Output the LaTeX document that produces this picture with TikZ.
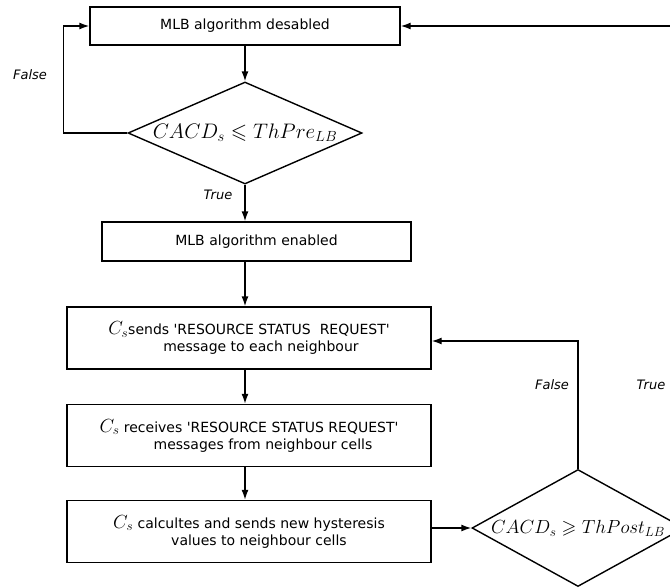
\RequirePackage{fix-cm}
\documentclass[tikz,border=0pt]{standalone}
\usepackage{amsmath}
\usepackage{amssymb}
\usepackage{fontspec}
\setmainfont{DejaVu Sans}
\usetikzlibrary{shapes.geometric,arrows.meta}

\begin{document}
\begin{tikzpicture}[x=1pt,y=1pt,
  box/.style = {draw, align=center, minimum width=364pt, minimum height=62pt, inner sep=2pt, font=\fontsize{14}{17}\selectfont},
  dec/.style = {draw, diamond, inner sep=0pt},
  lbl/.style = {font=\fontsize{13}{15}\selectfont\itshape},
  >={Latex[length=10pt,width=7pt]}, line width=1.4pt]
\useasboundingbox (0,0) rectangle (670,-587);
\node[box, minimum width=310pt, minimum height=38pt] (1) at (245,-26) {MLB algorithm desabled};
\node[dec, minimum width=234pt, minimum height=102pt] (2) [below of=1, node distance=107pt] {\makebox[0pt]{\fontsize{21}{24}\selectfont$CACD_s \leqslant ThPre_{LB}$}};
\node[box, minimum width=309pt, minimum height=39pt] (3) [below of=2, node distance=108.5pt, xshift=11.5pt] {MLB algorithm enabled};
\node[box] (4) [below of=3, node distance=96.5pt, xshift=-7.5pt] {{\fontsize{19}{17}\selectfont$C_s$}sends \textquotesingle RESOURCE STATUS\ \ REQUEST\textquotesingle\\ \hspace*{24pt}message to each neighbour};
\node[box] (5) [below of=4, node distance=97.5pt] {{\fontsize{19}{17}\selectfont$C_s$} receives \textquotesingle RESOURCE STATUS REQUEST\textquotesingle\\ \hspace*{28pt}messages from neighbour cells};
\node[box] (6) [below of=5, node distance=96pt] {{\fontsize{19}{17}\selectfont$C_s$} calcultes and sends new hysteresis\\ \hspace*{20pt}values to neighbour cells};
\node[dec, minimum width=212pt, minimum height=117pt] (7) [right of=6, node distance=329pt, yshift=3.5pt] {\makebox[0pt]{\fontsize{19}{22}\selectfont$CACD_s \geqslant ThPost_{LB}$}};
\node[lbl] (f1) at (30,-75) {False};
\node[lbl] (t1) at (218,-195) {True};
\node[lbl] (f2) at (552,-385) {False};
\node[lbl] (t2) at (651,-385) {True};
\draw[->] (1) -- (2);
\draw[->] (2.west) -- ++(-64,0) |- (1.west);
\draw[->] (2.south) -- (2.south |- 3.north);
\draw[->] (1 |- 3.south) -- (1 |- 4.north);
\draw[->] (1 |- 4.south) -- (1 |- 5.north);
\draw[->] (1 |- 5.south) -- (1 |- 6.north);
\draw[->] (6.east |- 7.west) -- (7.west);
\draw[->] (7.north) |- ([yshift=-3pt]4.east);
\draw[->] (7.east) -- ++(12,0) |- (1.east);
\end{tikzpicture}
\end{document}
